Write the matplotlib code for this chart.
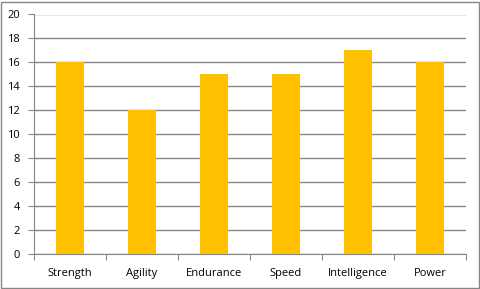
import matplotlib.pyplot as plt
import numpy as np

# stats per attribute
categories = ['Strength', 'Agility', 'Endurance', 'Speed', 'Intelligence', 'Power']
values = [16, 12, 15, 15, 17, 16]
y_ticks = [0, 2, 4, 6, 8, 10, 12, 14, 16, 18, 20]

plt.rcParams['font.family'] = ['Open Sans', 'DejaVu Sans']

fig = plt.figure(figsize=(4.81, 2.89), dpi=100)
ax = fig.add_axes([34 / 481, (289 - 254) / 289, (466 - 34) / 481, (254 - 14.5) / 289])

x = np.arange(len(categories))
ax.bar(x, values, width=0.4, color='#FFC000', zorder=3)

ax.set_xlim(-0.5, len(categories) - 0.5)
ax.set_ylim(0, 20)
ax.set_yticks(y_ticks)
ax.set_yticklabels([str(t) for t in y_ticks], fontsize=8)
ax.yaxis.grid(True, color='#868686', linewidth=1, zorder=0)

# category labels between boundary ticks
ax.set_xticks(np.arange(-0.5, len(categories), 1))
ax.set_xticklabels([])
ax.set_xticks(x, minor=True)
ax.set_xticklabels(categories, minor=True, fontsize=8)
ax.tick_params(axis='x', which='minor', length=0, pad=10)
ax.tick_params(axis='x', which='major', length=4, color='#868686', direction='out')
ax.tick_params(axis='y', length=4, color='#868686', direction='out', pad=6)

for side in ['top', 'right']:
    ax.spines[side].set_visible(False)
for side in ['left', 'bottom']:
    ax.spines[side].set_color('#868686')

# outer chart border
fig.patches.append(plt.Rectangle((1 / 481, 1 / 289), 478 / 481, 286 / 289,
                                 transform=fig.transFigure, fill=False,
                                 edgecolor='#868686', linewidth=1))

fig.savefig('out.png', dpi=100)
